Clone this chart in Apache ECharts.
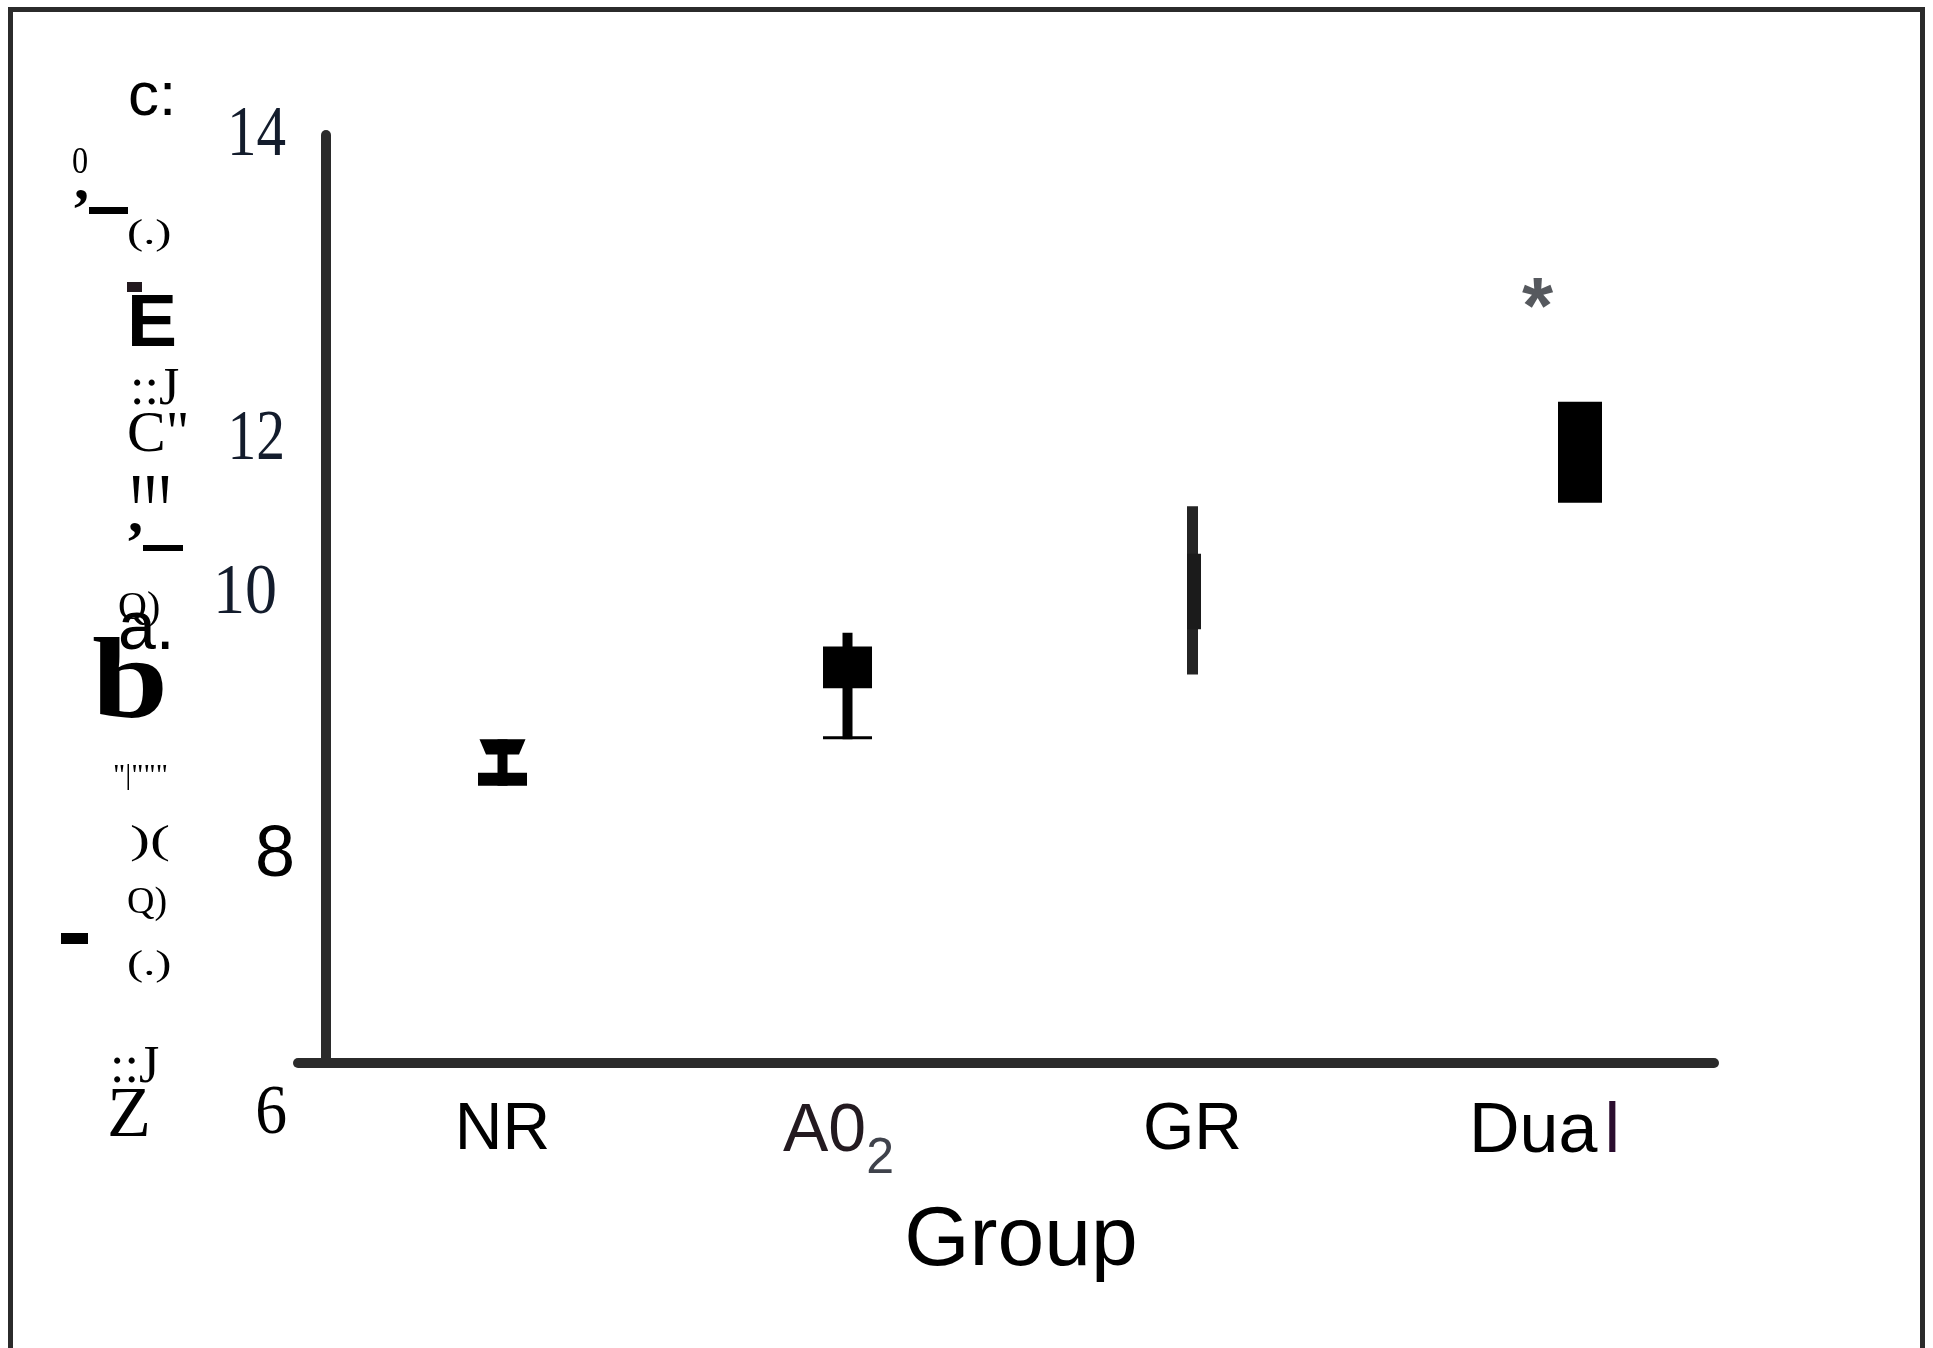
<!DOCTYPE html>
<html>
<head>
<meta charset="utf-8">
<script src="https://cdn.jsdelivr.net/npm/echarts@6/dist/echarts.min.js"></script>
<style>
html,body{margin:0;padding:0;background:#fff;}
#c{width:1933px;height:1348px;}
</style>
</head>
<body>
<div id="c"></div>
<script>
// ---------------- data ----------------
const categories = ['NR', 'A0\u2082', 'GR', 'Dual'];
const whiskerMin = [8.39, 8.79, 9.35, 10.83];
const boxQ1      = [8.66, 9.23, 9.74, 10.83];
const boxQ3      = [8.79, 9.59, 10.39, 11.70];
const whiskerMax = [8.79, 9.71, 10.80, 11.70];
const starGroups = [3];
const starValues = [12.65];
const yTickLabels = ['14', '12', '10', '8', '6'];
const yMin = 6, yMax = 14;
const yAxisTitleFragments = ['c:', '0', ',', '(.)', 'E', '::J', 'C"', "'''", ',', 'Q)', 'a.', 'b', '"|"""', ')(', 'Q)', '(.)', '::J', 'Z'];

// ---------------- styles / layout ----------------
const SERIF = "'Liberation Serif','Times New Roman',serif";
const SANS = "'Liberation Sans',Arial,sans-serif";
const boxStyle = [
  {shift: 0,    topW: 46, botW: 33, stemW: 10, capW: 49, capH: 13, boxDx: 0,   color: '#000', stemColor: '#000'},
  {shift: 0,    topW: 49, botW: 49, stemW: 10, capW: 49, capH: 3,  boxDx: 0,   color: '#000', stemColor: '#000'},
  {shift: 0,    topW: 14, botW: 14, stemW: 11, capW: 0,  capH: 0,  boxDx: 1.5, color: '#1b1b1b', stemColor: '#242424'},
  {shift: 42.5, topW: 44, botW: 44, stemW: 0,  capW: 0,  capH: 0,  boxDx: 0,   color: '#000', stemColor: '#000'}
];
const yTickLayout = [
  {x: 286, y: 136, size: 72, family: SERIF, color: '#131c2c', sx: 0.82},
  {x: 285, y: 440, size: 72, family: SERIF, color: '#131c2c', sx: 0.80},
  {x: 277, y: 594, size: 72, family: SERIF, color: '#131c2c', sx: 0.89},
  {x: 295, y: 856, size: 72, family: SANS,  color: '#000',    sx: 1.0},
  {x: 287, y: 1115, size: 70, family: SERIF, color: '#000',   sx: 0.91}
];
const fragLayout = [
  {x: 128, y: 98,  size: 62, family: SANS},
  {x: 72,  y: 163, size: 38, family: SERIF, sx: 0.85},
  {x: 74,  y: 183, size: 60, family: SERIF, weight: 'bold'},
  {x: 127, y: 235, size: 36, family: SERIF, sx: 1.35},
  {x: 127, y: 325, size: 75, family: SANS, weight: 'bold'},
  {x: 130, y: 390, size: 52, family: SERIF},
  {x: 127, y: 436, size: 58, family: SERIF},
  {x: 129, y: 522, size: 60, family: SERIF, weight: 'bold', sx: 0.86, sy: 1.9},
  {x: 128, y: 516, size: 60, family: SERIF, weight: 'bold'},
  {x: 118, y: 608, size: 40, family: SERIF},
  {x: 118, y: 630, size: 68, family: SANS},
  {x: 92,  y: 688, size: 114, family: SERIF, weight: 'bold', sx: 1.2},
  {x: 113, y: 776, size: 30, family: SERIF},
  {x: 130, y: 842, size: 40, family: SERIF, sx: 1.5},
  {x: 127, y: 903, size: 38, family: SERIF},
  {x: 127, y: 966, size: 36, family: SERIF, sx: 1.35},
  {x: 110, y: 1068, size: 52, family: SERIF},
  {x: 107, y: 1117, size: 72, family: SERIF}
];
const fragBars = [
  {x: 89, y: 207, w: 39, h: 7, color: '#000'},
  {x: 127, y: 282, w: 15, h: 10, color: '#231a1f'},
  {x: 143, y: 545, w: 40, h: 6, color: '#000'},
  {x: 61, y: 933, w: 27, h: 11, color: '#000'}
];

// ---------------- build ----------------
const chart = echarts.init(document.getElementById('c'), null, {renderer: 'canvas'});
const boxData = categories.map((c, i) => [i, whiskerMin[i], boxQ1[i], boxQ3[i], whiskerMax[i]]);
const starData = starGroups.map((g, i) => [g, starValues[i]]);

function renderBox(params, api) {
  const i = api.value(0);
  const st = boxStyle[i];
  const cx = api.coord([i, yMin])[0] + st.shift;
  const yLo = api.coord([i, api.value(1)])[1];
  const yQ1 = api.coord([i, api.value(2)])[1];
  const yQ3 = api.coord([i, api.value(3)])[1];
  const yHi = api.coord([i, api.value(4)])[1];
  const children = [];
  if (st.stemW > 0 && yLo - yHi > 0.5) {
    children.push({type: 'rect', shape: {x: cx - st.stemW / 2, y: yHi, width: st.stemW, height: yLo - yHi},
      style: {fill: st.stemColor}});
  }
  const bx = cx + st.boxDx;
  children.push({type: 'polygon', shape: {points: [
      [bx - st.topW / 2, yQ3], [bx + st.topW / 2, yQ3],
      [bx + st.botW / 2, yQ1], [bx - st.botW / 2, yQ1]]},
    style: {fill: st.color}});
  if (st.capH > 0) {
    children.push({type: 'rect', shape: {x: cx - st.capW / 2, y: yLo - st.capH, width: st.capW, height: st.capH},
      style: {fill: st.color}});
  }
  return {type: 'group', children: children};
}

const richX = {
  n: {fontSize: 66, fontFamily: SANS, color: '#000', verticalAlign: 'top'},
  a: {fontSize: 68, fontFamily: SANS, color: '#231a20', verticalAlign: 'top'},
  s: {fontSize: 50, fontFamily: SANS, color: '#3f424b', verticalAlign: 'top', padding: [36, 18, 0, 0]},
  d: {fontSize: 70, fontFamily: SANS, color: '#000', verticalAlign: 'top', padding: [0, 0, 0, 14]},
  l: {fontSize: 70, fontFamily: SANS, color: '#2b0d2f', verticalAlign: 'top', padding: [0, 0, 0, 7]}
};
function xLabel(v) {
  const c = categories[Math.round(v)];
  if (c === undefined) return '';
  if (c.indexOf('\u2082') >= 0) return '{a|' + c.replace('\u2082', '') + '}{s|2}';
  if (c === 'Dual') return '{d|' + c.slice(0, 3) + '}{l|' + c.slice(3) + '}';
  return '{n|' + c + '}';
}

const graphics = [];
graphics.push({type: 'rect', silent: true, shape: {x: 10.5, y: 9.5, width: 1912, height: 1400},
  style: {fill: 'none', stroke: '#2b2b2b', lineWidth: 5}});
yTickLabels.forEach((t, i) => {
  const L = yTickLayout[i];
  graphics.push({type: 'text', x: L.x, y: L.y, scaleX: L.sx, silent: true,
    style: {text: t, font: L.size + 'px ' + L.family, fill: L.color,
      align: 'right', textAlign: 'right', verticalAlign: 'middle', textVerticalAlign: 'middle'}});
});
yAxisTitleFragments.forEach((t, i) => {
  const L = fragLayout[i];
  graphics.push({type: 'text', x: L.x, y: L.y, scaleX: L.sx || 1, scaleY: L.sy || 1, silent: true,
    style: {text: t, font: (L.weight || 'normal') + ' ' + L.size + 'px ' + L.family, fill: '#000',
      align: 'left', textAlign: 'left', verticalAlign: 'middle', textVerticalAlign: 'middle'}});
});
fragBars.forEach(b => {
  graphics.push({type: 'rect', silent: true, shape: {x: b.x, y: b.y, width: b.w, height: b.h}, style: {fill: b.color}});
});

const option = {
  animation: false,
  backgroundColor: '#fff',
  grid: {left: 298, right: 219, top: 135, bottom: 285, containLabel: false, outerBoundsMode: 'none'},
  xAxis: {
    type: 'value', min: -0.5928, max: 3.5116,
    splitLine: {show: false},
    axisTick: {show: false},
    axisLine: {show: true, onZero: false, lineStyle: {color: '#2b2b2b', width: 10}},
    axisLabel: {customValues: [0, 1, 2, 3], formatter: xLabel, margin: 35, verticalAlign: 'top', rich: richX},
    name: 'Group', nameLocation: 'middle', nameGap: 137,
    nameTextStyle: {fontSize: 84, fontFamily: SANS, color: '#000', padding: [0, 0, 0, 30]}
  },
  yAxis: {
    type: 'value', min: yMin, max: yMax, offset: -27.5,
    splitLine: {show: false},
    axisTick: {show: false},
    axisLabel: {show: false},
    axisLine: {show: true, onZero: false, lineStyle: {color: '#2b2b2b', width: 10}}
  },
  graphic: graphics,
  series: [
    {type: 'custom', renderItem: renderBox, data: boxData, encode: {x: 0, y: [1, 2, 3, 4]}, clip: false, silent: true},
    {type: 'scatter', data: starData, symbolSize: 0, silent: true,
      label: {show: true, position: 'inside', formatter: '*', offset: [0, 19],
        fontSize: 80, fontWeight: 'bold', fontFamily: SANS, color: '#2c3036'}}
  ]
};
chart.setOption(option);
</script>
</body>
</html>
